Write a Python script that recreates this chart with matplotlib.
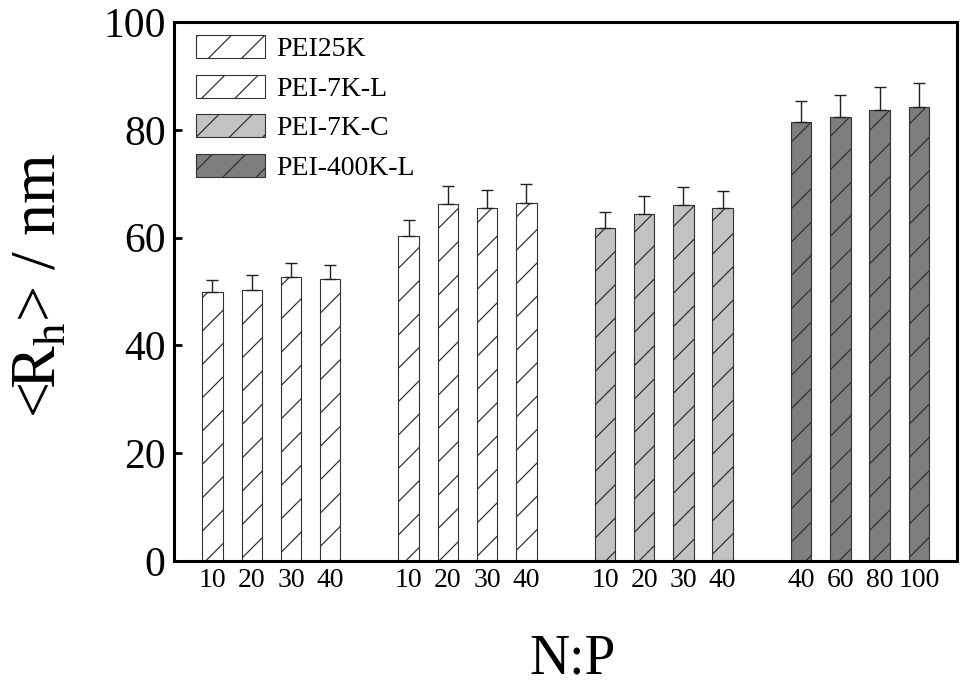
import numpy as np
import matplotlib
matplotlib.use('Agg')
import matplotlib.pyplot as plt
from matplotlib.patches import Patch

plt.rcParams['font.family'] = 'Liberation Serif'
plt.rcParams['mathtext.fontset'] = 'custom'
plt.rcParams['mathtext.rm'] = 'Liberation Serif'
plt.rcParams['hatch.linewidth'] = 0.9

# polymer series and N:P ratios
series = ['PEI25K', 'PEI-7K-L', 'PEI-7K-C', 'PEI-400K-L']
np_ratios = [['10', '20', '30', '40'],
             ['10', '20', '30', '40'],
             ['10', '20', '30', '40'],
             ['40', '60', '80', '100']]

# hydrodynamic radius <Rh> (nm) and upper error
rh_25k = [50.0, 50.3, 52.6, 52.4]
rh_7kl = [60.3, 66.2, 65.5, 66.5]
rh_7kc = [61.7, 64.4, 66.0, 65.5]
rh_400k = [81.4, 82.4, 83.7, 84.3]

err_25k = [2.1, 2.8, 2.6, 2.5]
err_7kl = [3.0, 3.4, 3.3, 3.4]
err_7kc = [3.0, 3.3, 3.4, 3.2]
err_400k = [4.0, 4.1, 4.3, 4.3]

values = [rh_25k, rh_7kl, rh_7kc, rh_400k]
errors = [err_25k, err_7kl, err_7kc, err_400k]
faces = ['white', 'white', '#c2c2c2', '#7e7e7e']

fig = plt.figure(figsize=(9.61, 6.86), dpi=100)
ax = fig.add_axes([174/961, 1 - 561/686, 783/961, 539/686])

xticks, xlabels = [], []
for g in range(len(series)):
    x = g * 5 + np.arange(4)
    ax.bar(x, values[g], width=0.52, color=faces[g], edgecolor='#333333',
           linewidth=0.8, hatch='/', label=series[g], zorder=2)
    ax.errorbar(x, values[g], yerr=[np.zeros(4), errors[g]], fmt='none',
                ecolor='#222222', elinewidth=1.0, capsize=4, capthick=1.0,
                zorder=3)
    xticks.extend(x)
    xlabels.extend(np_ratios[g])

ax.set_xlim(-0.98, 18.97)
ax.set_ylim(0, 100)
ax.set_xticks(xticks)
ax.set_xticklabels(xlabels, fontsize=20)
ax.set_yticks([0, 20, 40, 60, 80, 100])
ax.tick_params(axis='x', length=0, pad=5)
ax.tick_params(axis='y', direction='in', length=6, width=2, labelsize=30, pad=6)
for s in ax.spines.values():
    s.set_linewidth(2.2)

handles = [Patch(facecolor=faces[i], edgecolor='#333333', linewidth=0.8,
                 hatch='/', label=series[i]) for i in range(4)]
ax.legend(handles=handles, loc='upper left', bbox_to_anchor=(0.028, 0.976),
          frameon=False, fontsize=20, handlelength=2.5, handleheight=0.9,
          handletextpad=0.4, labelspacing=0.45, borderpad=0, borderaxespad=0)

fig.text(573/961, 1 - 674/686, 'N:P', ha='center', va='baseline', fontsize=40)
fig.text(56/961, 1 - 285/686, r'<R$_\mathregular{h}$> / nm', rotation=90,
         rotation_mode='anchor', ha='center', va='baseline', fontsize=46)

fig.savefig('out.png', dpi=100)
